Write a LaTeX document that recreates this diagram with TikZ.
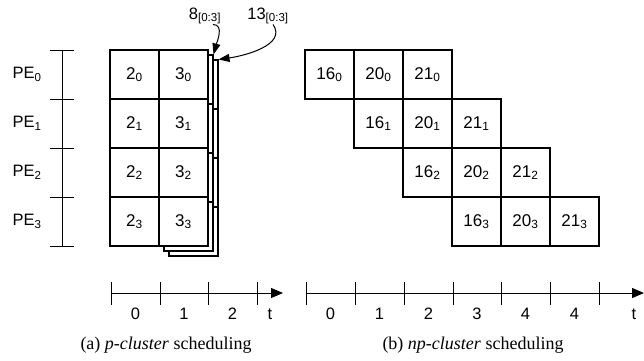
\documentclass[tikz,border=0pt]{standalone}
\usepackage{fontspec}
\setmainfont{Liberation Serif}
\setsansfont{Liberation Sans}
\usetikzlibrary{arrows.meta}

\tikzstyle{slot}=[draw=black, line width=1.1pt, minimum size=49pt, inner sep=0pt, font=\sffamily\fontsize{17}{19}\selectfont]
\tikzstyle{copy slot}=[slot, fill=white]
\tikzstyle{axis}=[draw=black, line width=1pt]
\tikzstyle{time axis}=[axis, -{Triangle[length=12pt,width=10pt]}]
\tikzstyle{axis text}=[inner sep=0pt, font=\sffamily\fontsize{16.5}{19}\selectfont]
\tikzstyle{pointer}=[draw=black, line width=1pt, -{Triangle[length=11pt,width=8pt]}]
\tikzstyle{caption}=[inner sep=0pt, font=\fontsize{18}{20}\selectfont]

\begin{document}
\begin{tikzpicture}[x=1pt,y=-1pt]
	\useasboundingbox (0,0) rectangle (644,360);

	% processing elements
	\draw[axis] (62,50) -- (62,246);
	\foreach \y in {50,99,148,197,246}
		\draw[axis] (50,\y) -- (74,\y);
	\node[axis text] (pe0) at (27,74.5) {PE\textsubscript{0}};
	\node[axis text] (pe1) at (27,123.5) {PE\textsubscript{1}};
	\node[axis text] (pe2) at (27,172.5) {PE\textsubscript{2}};
	\node[axis text] (pe3) at (27,221.5) {PE\textsubscript{3}};

	% stacked copies behind the second column
	\node[copy slot] (bb0) at (193.5,84.5) {};
	\node[copy slot] (bb1) at (193.5,133.5) {};
	\node[copy slot] (bb2) at (193.5,182.5) {};
	\node[copy slot] (bb3) at (193.5,231.5) {};
	\node[copy slot] (b0) at (188.5,79.5) {};
	\node[copy slot] (b1) at (188.5,128.5) {};
	\node[copy slot] (b2) at (188.5,177.5) {};
	\node[copy slot] (b3) at (188.5,226.5) {};

	% p-cluster
	\node[slot, fill=white] (p20) at (134.5,74.5) {2\textsubscript{0}};
	\node[slot, fill=white] (p30) at (183.5,74.5) {3\textsubscript{0}};
	\node[slot, fill=white] (p21) at (134.5,123.5) {2\textsubscript{1}};
	\node[slot, fill=white] (p31) at (183.5,123.5) {3\textsubscript{1}};
	\node[slot, fill=white] (p22) at (134.5,172.5) {2\textsubscript{2}};
	\node[slot, fill=white] (p32) at (183.5,172.5) {3\textsubscript{2}};
	\node[slot, fill=white] (p23) at (134.5,221.5) {2\textsubscript{3}};
	\node[slot, fill=white] (p33) at (183.5,221.5) {3\textsubscript{3}};

	\node[axis text] (n8) at (205,16) {8\textsubscript{[0:3]}};
	\node[axis text] (n13) at (268,16) {13\textsubscript{[0:3]}};
	\draw[pointer] ([xshift=8pt]n8.south) to[out=0,in=75] (b0.north east);
	\draw[pointer] ([xshift=5pt]n13.south) to[out=-55,in=8] (bb0.north east);

	% np-cluster
	\node[slot] (q160) at (329.5,74.5) {16\textsubscript{0}};
	\node[slot] (q200) at (378.5,74.5) {20\textsubscript{0}};
	\node[slot] (q210) at (427.5,74.5) {21\textsubscript{0}};
	\node[slot] (q161) at (378.5,123.5) {16\textsubscript{1}};
	\node[slot] (q201) at (427.5,123.5) {20\textsubscript{1}};
	\node[slot] (q211) at (476.5,123.5) {21\textsubscript{1}};
	\node[slot] (q162) at (427.5,172.5) {16\textsubscript{2}};
	\node[slot] (q202) at (476.5,172.5) {20\textsubscript{2}};
	\node[slot] (q212) at (525.5,172.5) {21\textsubscript{2}};
	\node[slot] (q163) at (476.5,221.5) {16\textsubscript{3}};
	\node[slot] (q203) at (525.5,221.5) {20\textsubscript{3}};
	\node[slot] (q213) at (574.5,221.5) {21\textsubscript{3}};

	% time axes
	\coordinate (ta) at (111,293);
	\coordinate (tb) at (283,293);
	\draw[time axis] (ta) -- (tb);
	\foreach \x in {111,160,208,257}
		\draw[axis] (\x,282) -- (\x,305);
	\node[axis text] (ta0) at (135.5,314) {0};
	\node[axis text] (ta1) at (184,314) {1};
	\node[axis text] (ta2) at (232.5,314) {2};
	\node[axis text] (tat) at (270,314) {t};

	\coordinate (sa) at (306,293);
	\coordinate (sb) at (644,293);
	\draw[time axis] (sa) -- (sb);
	\foreach \x in {306,355,404,453,501,550,599}
		\draw[axis] (\x,282) -- (\x,305);
	\node[axis text] (sa0) at (330.5,314) {0};
	\node[axis text] (sa1) at (379.5,314) {1};
	\node[axis text] (sa2) at (428.5,314) {2};
	\node[axis text] (sa3) at (477,314) {3};
	\node[axis text] (sa4) at (525.5,314) {4};
	\node[axis text] (sa5) at (574.5,314) {4};
	\node[axis text] (sat) at (634,314) {t};

	\node[caption] (capa) at (166,345) {(a) \textit{p-cluster} scheduling};
	\node[caption] (capb) at (473,345) {(b) \textit{np-cluster} scheduling};
\end{tikzpicture}
\end{document}
